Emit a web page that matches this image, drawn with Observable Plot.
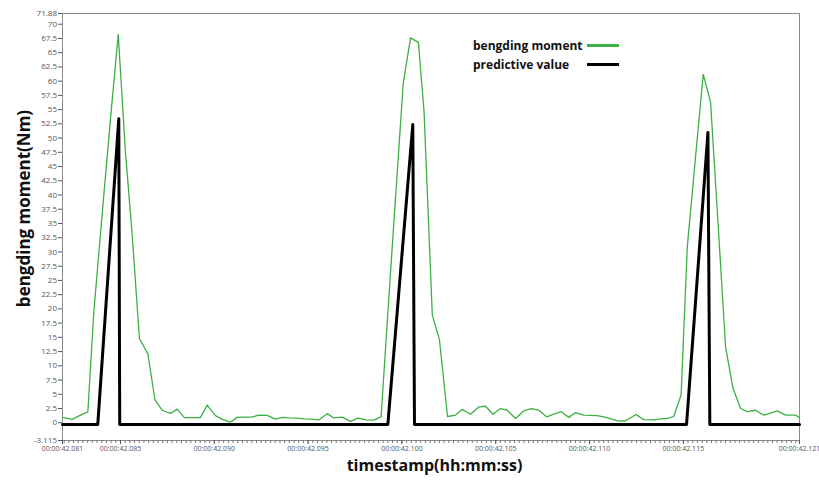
<!DOCTYPE html>
<html><head><meta charset="utf-8">
<script src="https://cdn.jsdelivr.net/npm/d3@7"></script>
<script src="https://cdn.jsdelivr.net/npm/@observablehq/plot@0.6"></script>
<style>
body{margin:0;background:#fff;}
#wrap{position:relative;width:819px;height:481px;font-family:"Open Sans",sans-serif;}
#legend{position:absolute;left:473px;top:36px;}
.row{display:flex;align-items:center;height:19px;font-weight:bold;font-size:12px;color:#111;}
.row span{display:block;width:114px;}
.row i{display:block;width:32px;height:2.5px;}
</style></head><body><div id="wrap"><div id="legend"></div></div>
<script>
const seriesNames = ["bengding moment", "predictive value"];
const seriesColors = ["#3cb043", "#000000"];

// time in ms after 00:00:42.000
const momentTime = [81.91, 82.43, 82.87, 83.26, 83.58, 84.06, 84.47, 84.88, 85.27, 85.62,
  86.01, 86.46, 86.84, 87.22, 87.67, 88.02, 88.41, 88.84, 89.26, 89.62,
  90.06, 90.44, 90.85, 91.22, 91.61, 92.02, 92.37, 92.82, 93.26, 93.62,
  94.01, 94.42, 94.81, 95.18, 95.57, 96.02, 96.37, 96.82, 97.26, 97.66,
  98.11, 98.50, 98.89, 99.29, 99.69, 100.07, 100.46, 100.88, 101.18, 101.62,
  102.00, 102.43, 102.86, 103.21, 103.66, 104.11, 104.46, 104.85, 105.26, 105.61,
  106.06, 106.50, 106.89, 107.30, 107.71, 108.10, 108.49, 108.90, 109.25, 109.70,
  110.05, 110.41, 110.94, 111.23, 111.56, 111.92, 112.48, 112.88, 113.43, 113.78,
  114.14, 114.49, 114.88, 115.21, 115.63, 116.06, 116.45, 116.85, 117.25, 117.65,
  118.05, 118.41, 118.85, 119.29, 119.65, 120.00, 120.45, 120.98, 121.19];
const momentValue = [0.95, 0.6, 1.35, 1.9, 19.5, 38, 53.5, 68.2, 47.3, 33.2,
  14.8, 12.1, 4.0, 2.2, 1.65, 2.4, 0.9, 0.9, 0.9, 3.1,
  1.25, 0.6, 0.1, 0.95, 1.0, 1.0, 1.35, 1.3, 0.65, 0.95,
  0.85, 0.8, 0.7, 0.65, 0.5, 1.6, 0.85, 1.0, 0.25, 0.8,
  0.5, 0.45, 1.05, 21.3, 41, 59.6, 67.6, 66.8, 54.6, 18.9,
  14.6, 1.1, 1.35, 2.35, 1.5, 2.8, 2.9, 1.5, 2.5, 2.2,
  0.75, 2.1, 2.5, 2.2, 1.05, 1.5, 1.95, 0.95, 1.8, 1.35,
  1.3, 1.25, 0.9, 0.6, 0.3, 0.35, 1.45, 0.55, 0.5, 0.7,
  0.75, 1.1, 4.9, 30.9, 46, 61.2, 56.3, 35, 13.3, 6.0,
  2.5, 1.95, 2.2, 1.35, 1.7, 2.1, 1.35, 1.35, 0.9];

const predTime = [81.91, 83.79, 84.91, 84.96, 99.25, 100.58, 100.67, 115.17, 116.31, 116.41, 121.19];
const predValue = [-0.3, -0.3, 53.4, -0.3, -0.3, 52.4, -0.3, -0.3, 51.0, -0.3, -0.3];

const yTicks = [-3.115, 0, 2.5, 5, 7.5, 10, 12.5, 15, 17.5, 20, 22.5, 25, 27.5, 30, 32.5, 35,
  37.5, 40, 42.5, 45, 47.5, 50, 52.5, 55, 57.5, 60, 62.5, 65, 67.5, 70, 71.88];
const xTickValues = [81.91, 85, 90, 95, 100, 105, 110, 115, 121.19];
const xTickLabels = ["00:00:42.081", "00:00:42.085", "00:00:42.090", "00:00:42.095", "00:00:42.100",
  "00:00:42.105", "00:00:42.110", "00:00:42.115", "00:00:42.121"];
const xTitle = "timestamp(hh:mm:ss)";
const yTitle = "bengding moment(Nm)";

const moment = momentTime.map((t, i) => ({t, v: momentValue[i]}));
const pred = predTime.map((t, i) => ({t, v: predValue[i]}));
const labelMap = new Map(xTickValues.map((v, i) => [v, xTickLabels[i]]));
const minorTicks = d3.range(82, 121.01, 0.25);

const chart = Plot.plot({
  width: 819, height: 481,
  marginLeft: 62, marginRight: 20, marginTop: 13, marginBottom: 41,
  style: {fontFamily: "Open Sans, sans-serif", background: "#fff"},
  x: {domain: [81.91, 121.19], label: null},
  y: {domain: [-3.115, 71.88], label: null},
  marks: [
    Plot.frame({stroke: "#8a8a8a"}),
    Plot.axisY({ticks: yTicks, tickFormat: d => String(d), tickSize: 4, tickPadding: 1.5, fontSize: 8, color: "#555", label: null}),
    Plot.axisX({ticks: minorTicks, tickFormat: () => "", tickSize: 3, color: "#777", label: null}),
    Plot.axisX({ticks: xTickValues, tickFormat: d => labelMap.get(d), tickSize: 4, tickPadding: 1.5, fontSize: 7, color: "#555", label: null}),
    Plot.line(moment, {x: "t", y: "v", stroke: seriesColors[0], strokeWidth: 1.3}),
    Plot.line(pred, {x: "t", y: "v", stroke: seriesColors[1], strokeWidth: 3}),
    Plot.text([xTitle], {text: d => d, frameAnchor: "bottom", dx: 3.5, dy: 30.5, fontSize: 16, fontWeight: "bold", fill: "#111"}),
    Plot.text([yTitle], {text: d => d, frameAnchor: "left", dx: -38, dy: -18.5, rotate: -90, textAnchor: "middle", fontSize: 17, fontWeight: "bold", fill: "#111"})
  ]
});
const wrap = document.getElementById("wrap");
wrap.insertBefore(chart, wrap.firstChild);

const legend = document.getElementById("legend");
seriesNames.forEach((name, i) => {
  const row = document.createElement("div");
  row.className = "row";
  const s = document.createElement("span");
  s.textContent = name;
  const sw = document.createElement("i");
  sw.style.background = seriesColors[i];
  row.appendChild(s); row.appendChild(sw);
  legend.appendChild(row);
});
</script></body></html>
